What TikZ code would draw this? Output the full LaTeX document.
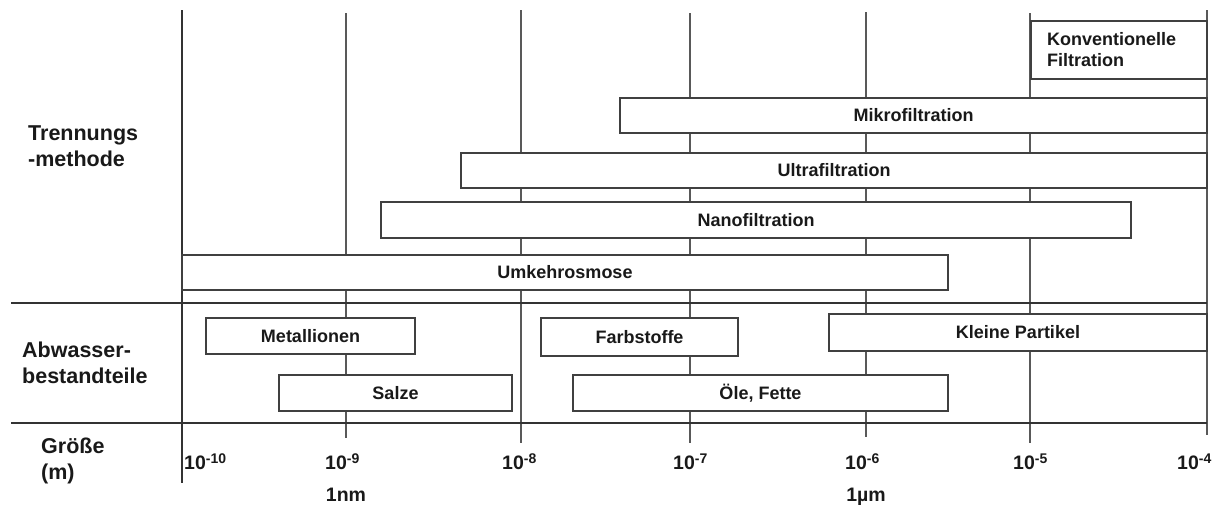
\documentclass[tikz,border=0pt]{standalone}
\usepackage{fontspec}
\setmainfont{Liberation Sans}
\begin{document}
\begin{tikzpicture}[x=1pt,y=-1pt,
  ink/.style={text=black!90},
  grid/.style={draw=black!65,line width=1.1pt},
  rule/.style={draw=black!80,line width=1.8pt},
  bar/.style={draw=black!75,line width=1.1pt,fill=white,inner sep=0pt,ink,
    font=\bfseries\fontsize{18}{21}\selectfont},
  side/.style={ink,anchor=base west,align=left,inner sep=0pt,
    font=\bfseries\fontsize{21.5}{26}\selectfont},
  tick/.style={ink,anchor=base west,inner sep=0pt,
    font=\bfseries\fontsize{19.5}{23}\selectfont},
  unit/.style={ink,anchor=base,inner sep=0pt,
    font=\bfseries\fontsize{19.5}{23}\selectfont}]
\useasboundingbox (0,0) rectangle (1221,504);
\newcommand{\ex}[1]{{\fontsize{14}{14}\selectfont\raisebox{6pt}{#1}}}

% decade grid lines
\coordinate (g9t) at (346,13);   \coordinate (g9b) at (346,438);
\coordinate (g8t) at (521,10);   \coordinate (g8b) at (521,443);
\coordinate (g7t) at (690,13);   \coordinate (g7b) at (690,443);
\coordinate (g6t) at (866,12);   \coordinate (g6b) at (866,437);
\coordinate (g5t) at (1030,13);  \coordinate (g5b) at (1030,443);
\coordinate (g4t) at (1207,10);  \coordinate (g4b) at (1207,435);
\foreach \g in {9,8,7,6,5} \draw[grid] (g\g t) -- (g\g b);
\draw[grid,line width=1.5pt] (g4t) -- (g4b);

% main axis and row separators
\coordinate (axt) at (182,10);  \coordinate (axb) at (182,483);
\draw[rule] (axt) -- (axb);
\coordinate (r1l) at (11,303);  \coordinate (r1r) at (1207,303);
\coordinate (r2l) at (11,423);  \coordinate (r2r) at (1207,423);
\draw[rule] (r1l) -- (r1r);
\draw[rule] (r2l) -- (r2r);

% separation methods
\node[bar,minimum width=176pt,minimum height=58pt,text width=144pt,
  inner xsep=16pt,align=left]
  (konv) at (1119,50) {Konventionelle\\Filtration};
\node[bar,minimum width=587pt,minimum height=35pt] (mikro) at (913.5,115.5) {Mikrofiltration};
\node[bar,minimum width=746pt,minimum height=35pt] (ultra) at (834,170.5) {Ultrafiltration};
\node[bar,minimum width=750pt,minimum height=36pt] (nano) at (756,220) {Nanofiltration};
\node[bar,minimum width=766pt,minimum height=35pt] (umk) at (565,272.5) {Umkehrosmose};

% wastewater constituents
\node[bar,minimum width=209pt,minimum height=36pt] (metall) at (310.5,336) {Metallionen};
\node[bar,minimum width=233pt,minimum height=36pt] (salze) at (395.5,393) {Salze};
\node[bar,minimum width=197pt,minimum height=38pt] (farb) at (639.5,337) {Farbstoffe};
\node[bar,minimum width=375pt,minimum height=36pt] (oele) at (760.5,393) {Öle, Fette};
\node[bar,minimum width=378pt,minimum height=37pt] (klein) at (1018,332.5) {Kleine Partikel};

% row labels (anchored at the baseline of the last line)
\node[side] (lblT) at (28,166) {Trennungs\\-methode};
\node[side] (lblA) at (22,383) {Abwasser-\\bestandteile};
\node[side] (lblG) at (41,479) {Größe\\(m)};

% scale labels
\node[tick] (t10) at (184,469) {10\ex{-10}};
\node[tick] (t9) at (325,469) {10\ex{-9}};
\node[tick] (t8) at (502,469) {10\ex{-8}};
\node[tick] (t7) at (673,469) {10\ex{-7}};
\node[tick] (t6) at (845,469) {10\ex{-6}};
\node[tick] (t5) at (1013,469) {10\ex{-5}};
\node[tick] (t4) at (1177,469) {10\ex{-4}};
\node[unit] (nm) at (346,501) {1nm};
\node[unit] (um) at (866,501) {1µm};
\end{tikzpicture}
\end{document}
